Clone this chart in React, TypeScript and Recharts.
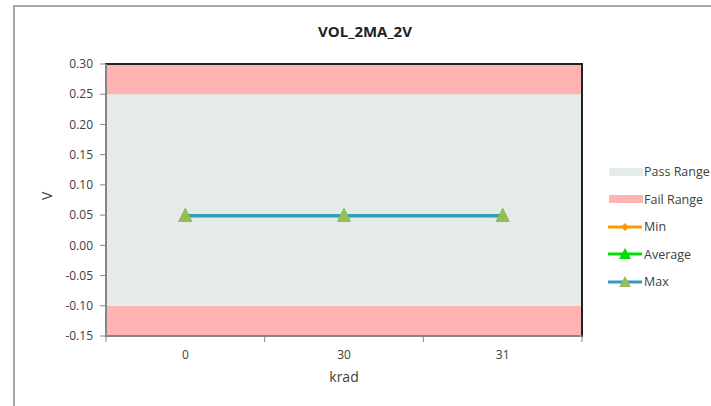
import React from 'react';
import {
  ComposedChart,
  Line,
  XAxis,
  YAxis,
  ReferenceArea,
  Label,
} from 'recharts';

const categories = ['0', '30', '31'];
const minValues = [0.049, 0.049, 0.049];
const avgValues = [0.049, 0.049, 0.049];
const maxValues = [0.049, 0.049, 0.049];
const yTicks = [-0.15, -0.1, -0.05, 0, 0.05, 0.1, 0.15, 0.2, 0.25, 0.3];
const passRange = [-0.1, 0.25];
const failLow = [-0.15, -0.1];
const failHigh = [0.25, 0.3];

const FONT = '"Open Sans", "Noto Sans", sans-serif';
const TEXT = '#404040';
const AXIS = '#868686';
const PASS = '#E5EBEB';
const FAIL = '#FFB3B3';
const MIN_C = '#FF9900';
const AVG_C = '#00DD00';
const MAX_C = '#3399CC';
const MARK = '#9BBB59';

const data = categories.map((c, i) => ({
  idx: i,
  krad: c,
  min: minValues[i],
  avg: avgValues[i],
  max: maxValues[i],
}));

// boundaries (x.5) get tick marks, integers get the labels
const xTicks: number[] = [];
categories.forEach((_, i) => xTicks.push(i - 0.5, i));
xTicks.push(categories.length - 0.5);

function XTick(props: any) {
  const { x, y, payload } = props;
  const v = payload.value;
  if (Number.isInteger(v)) {
    return (
      <text x={x} y={y + 23} textAnchor="middle" fontSize={12} fill={TEXT} fontFamily={FONT}>
        {categories[v]}
      </text>
    );
  }
  return <line x1={x} x2={x} y1={y} y2={y + 6} stroke={AXIS} strokeWidth={1} />;
}

function Triangle(props: any) {
  const { cx, cy, fill } = props;
  if (cx == null || cy == null) return null;
  return <polygon points={`${cx},${cy - 8} ${cx - 7},${cy + 6} ${cx + 7},${cy + 6}`} fill={fill} />;
}

function Diamond(props: any) {
  const { cx, cy } = props;
  if (cx == null || cy == null) return null;
  return <polygon points={`${cx},${cy - 4} ${cx + 4},${cy} ${cx},${cy + 4} ${cx - 4},${cy}`} fill={MIN_C} />;
}

const legendItems = [
  { name: 'Pass Range', kind: 'box', color: PASS },
  { name: 'Fail Range', kind: 'box', color: FAIL },
  { name: 'Min', kind: 'diamond', color: MIN_C },
  { name: 'Average', kind: 'tri', color: AVG_C, mark: AVG_C },
  { name: 'Max', kind: 'tri', color: MAX_C, mark: MARK },
];

function LegendBox() {
  return (
    <div style={{ fontFamily: FONT, fontSize: 12.5, color: TEXT }}>
      {legendItems.map((it) => (
        <div key={it.name} style={{ display: 'flex', alignItems: 'center', height: 27.5 }}>
          <svg width={38} height={14} style={{ marginRight: 1 }}>
            {it.kind === 'box' ? (
              <rect x={4} y={3} width={34} height={8} fill={it.color} />
            ) : (
              <>
                <line x1={3} x2={37} y1={7} y2={7} stroke={it.color} strokeWidth={3} />
                {it.kind === 'diamond' ? (
                  <polygon points="20,3 24,7 20,11 16,7" fill={it.color} />
                ) : (
                  <polygon points="20,1 14,12 26,12" fill={it.mark} />
                )}
              </>
            )}
          </svg>
          <span>{it.name}</span>
        </div>
      ))}
    </div>
  );
}

export default function App() {
  return (
    <div style={{ position: 'absolute', left: 0, top: 0, width: 711, height: 406, overflow: 'hidden', background: '#fff' }}>
      <div
        style={{
          position: 'absolute',
          left: 13,
          top: 5,
          width: 800,
          height: 500,
          border: '2px solid #A6A6A6',
        }}
      />
      <div
        style={{
          position: 'absolute',
          left: 0,
          width: 730,
          top: 21,
          textAlign: 'center',
          fontFamily: FONT,
          fontWeight: 'bold',
          fontSize: 15,
          color: '#222',
        }}
      >
        VOL_2MA_2V
      </div>
      <div style={{ position: 'absolute', left: 0, top: 0 }}>
        <ComposedChart width={711} height={406} data={data} margin={{ top: 64, right: 129, left: 40, bottom: 0 }}>
          <XAxis
            dataKey="idx"
            type="number"
            domain={[-0.5, categories.length - 0.5]}
            ticks={xTicks}
            interval={0}
            tick={<XTick />}
            tickLine={false}
            tickSize={0}
            tickMargin={0}
            axisLine={{ stroke: AXIS, strokeWidth: 2 }}
            height={70}
          >
            <Label value="krad" position="insideBottom" offset={24} fontSize={14} fill={TEXT} fontFamily={FONT} />
          </XAxis>
          <YAxis
            type="number"
            domain={[yTicks[0], yTicks[yTicks.length - 1]]}
            ticks={yTicks}
            interval={0}
            width={66}
            tickSize={6}
            tickMargin={7}
            tickFormatter={(v: number) => v.toFixed(2)}
            tick={{ fontSize: 12, fill: TEXT, fontFamily: FONT }}
            tickLine={{ stroke: AXIS }}
            axisLine={{ stroke: AXIS, strokeWidth: 2 }}
          >
            <Label value="V" angle={-90} position="insideLeft" offset={7} fontSize={14} fill={TEXT} fontFamily={FONT} />
          </YAxis>
          <ReferenceArea y1={failLow[0]} y2={failLow[1]} fill={FAIL} fillOpacity={1} stroke="none" ifOverflow="visible" />
          <ReferenceArea y1={passRange[0]} y2={passRange[1]} fill={PASS} fillOpacity={1} stroke="none" ifOverflow="visible" />
          <ReferenceArea y1={failHigh[0]} y2={failHigh[1]} fill={FAIL} fillOpacity={1} stroke="none" ifOverflow="visible" />
          <ReferenceArea
            y1={yTicks[0]}
            y2={yTicks[yTicks.length - 1]}
            fill="none"
            stroke="#222"
            strokeWidth={2}
            ifOverflow="visible"
          />
          <Line dataKey="min" stroke={MIN_C} strokeWidth={3} dot={<Diamond />} isAnimationActive={false} />
          <Line dataKey="avg" stroke={AVG_C} strokeWidth={3} dot={<Triangle fill={AVG_C} />} isAnimationActive={false} />
          <Line dataKey="max" stroke={MAX_C} strokeWidth={3} dot={<Triangle fill={MARK} />} isAnimationActive={false} />
        </ComposedChart>
      </div>
      <div style={{ position: 'absolute', left: 605, top: 158 }}>
        <LegendBox />
      </div>
    </div>
  );
}
